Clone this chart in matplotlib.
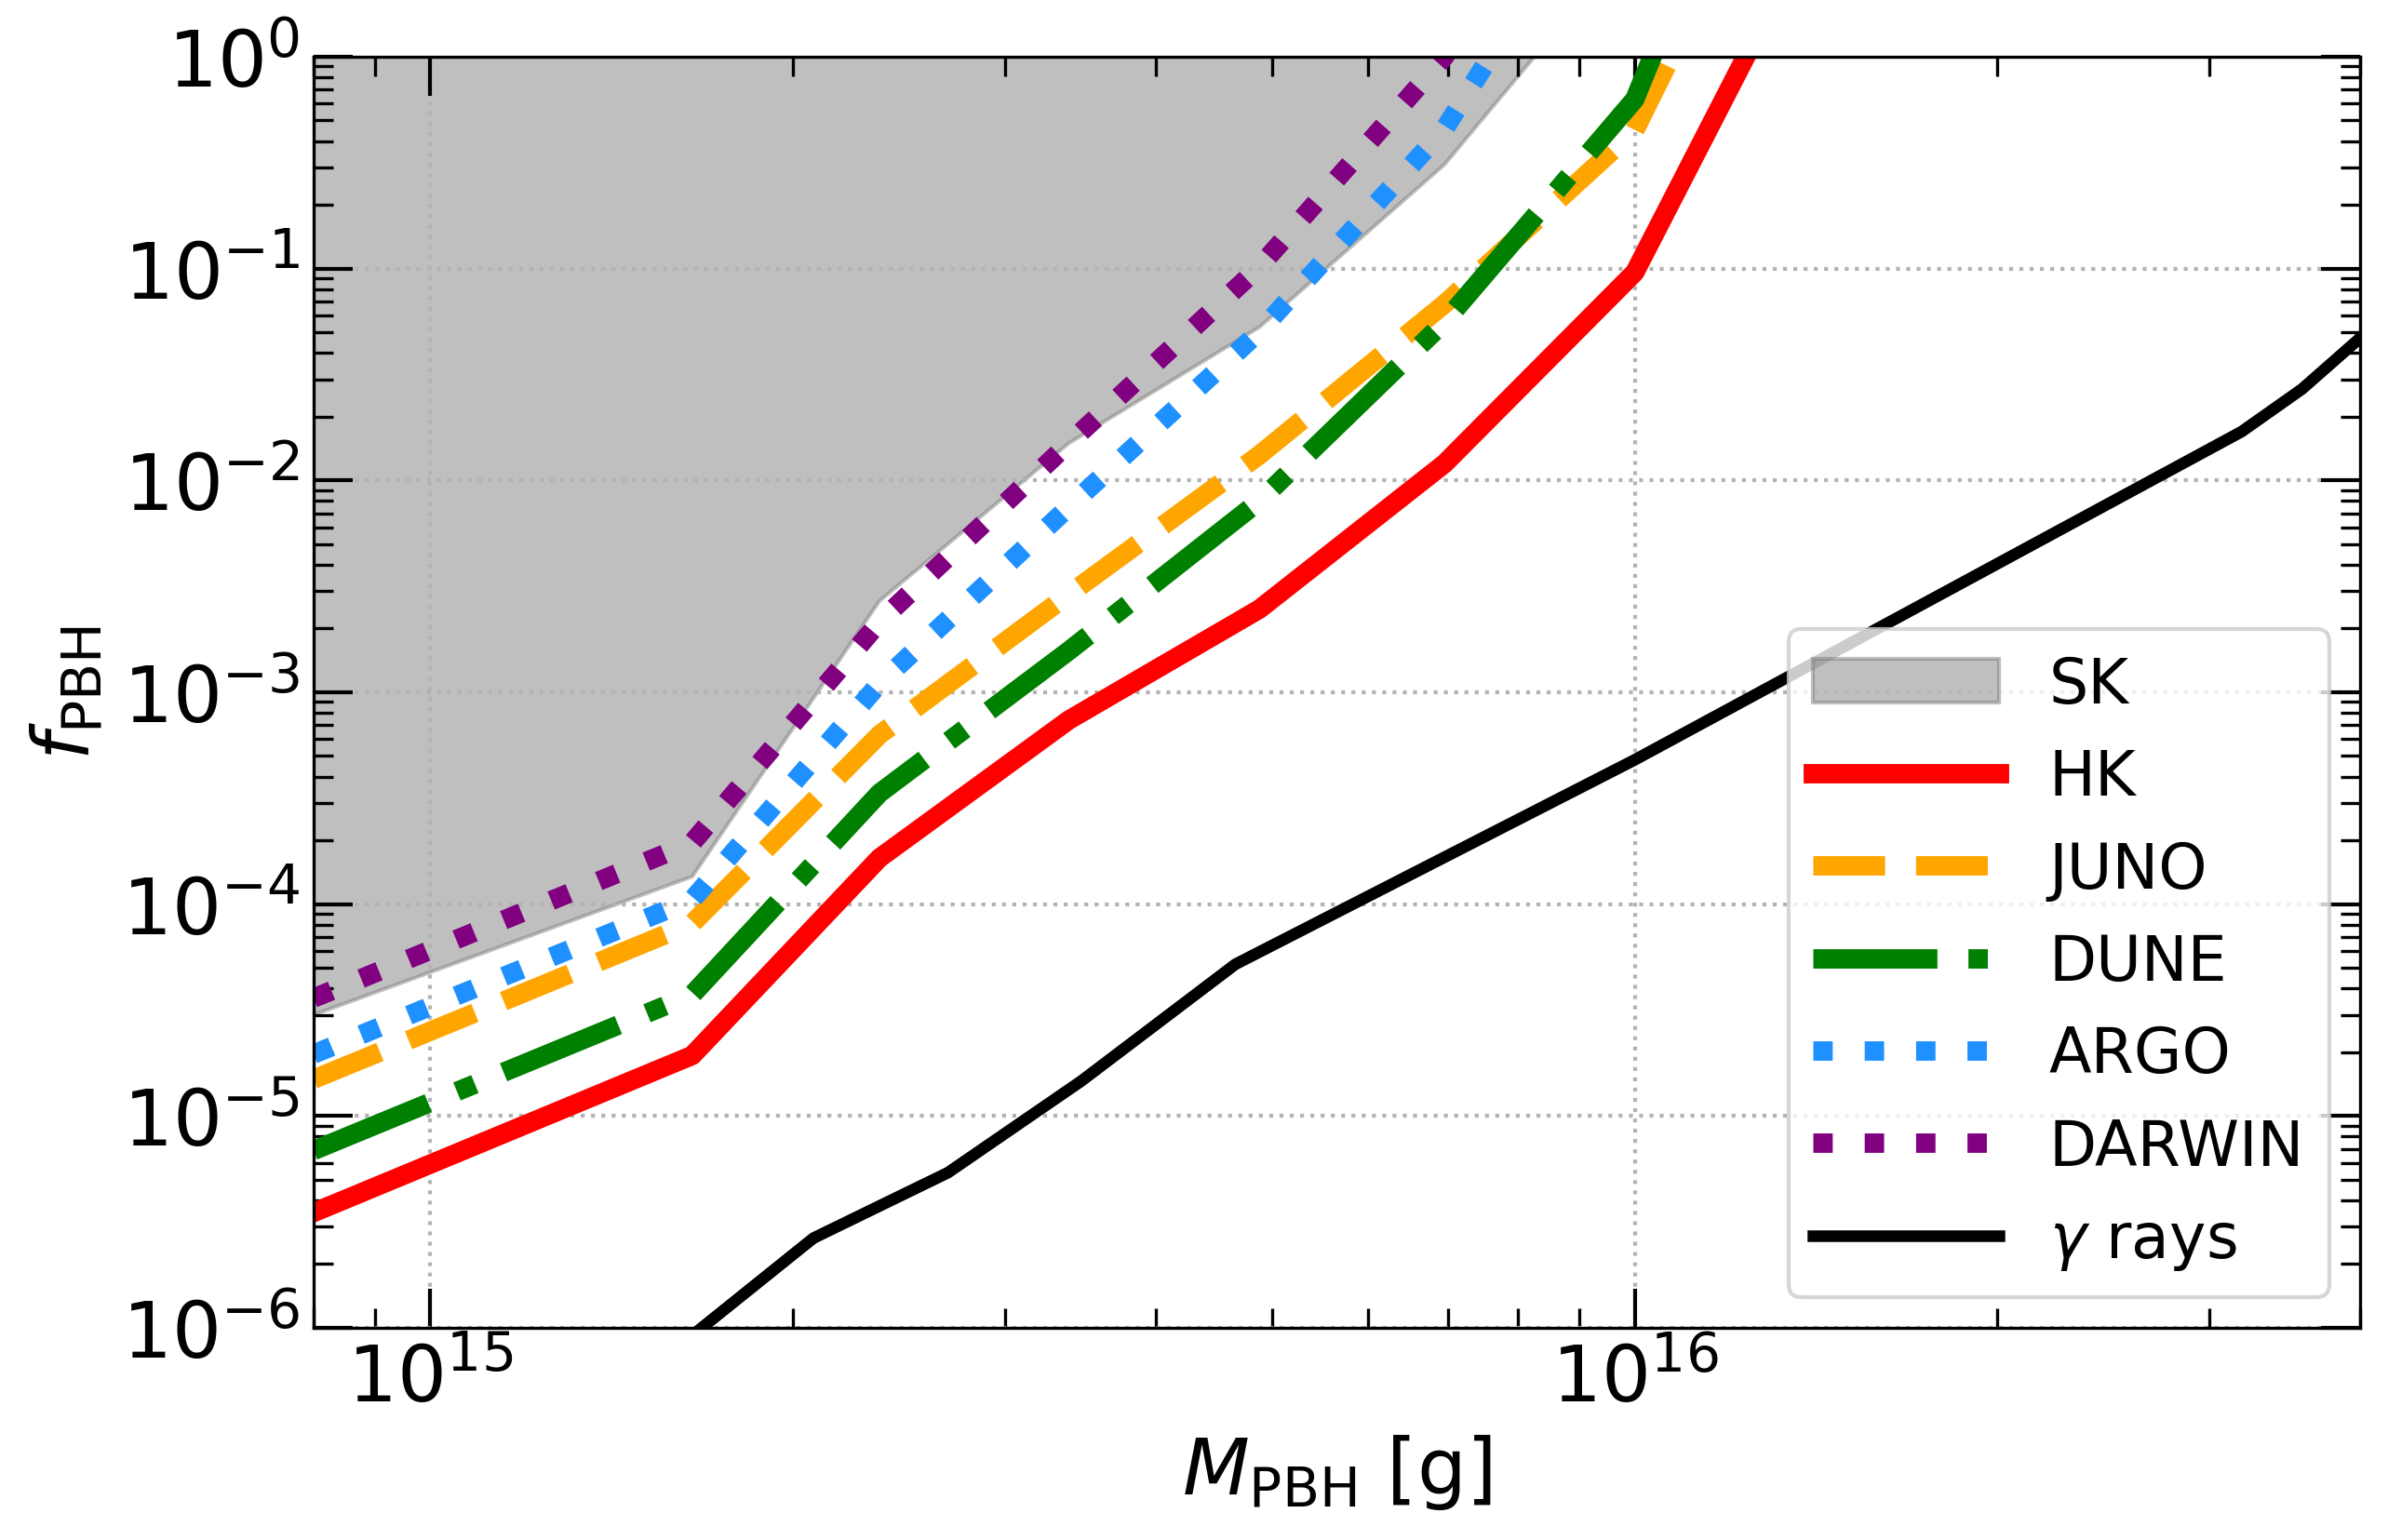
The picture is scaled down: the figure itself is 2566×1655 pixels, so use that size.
import numpy as np
import matplotlib
matplotlib.use("Agg")
import matplotlib.pyplot as plt

# masses [g] shared by the neutrino curves
mass = [8.0e14, 1.65e15, 2.36e15, 3.39e15, 4.88e15, 6.95e15, 1.0e16, 1.44e16]

sk = [3.0e-5, 1.35e-4, 2.7e-3, 1.5e-2, 5.3e-2, 0.31, 3.7, 40.0]
hk = [3.5e-6, 1.93e-5, 1.65e-4, 7.4e-4, 2.47e-3, 1.2e-2, 0.096, 5.4]
juno = [1.49e-5, 8.1e-5, 6.3e-4, 2.9e-3, 1.32e-2, 6.8e-2, 0.45, 30.0]
dune = [6.87e-6, 3.74e-5, 3.34e-4, 1.57e-3, 8.0e-3, 5.6e-2, 0.63, 100.0]
argo = [1.96e-5, 1.05e-4, 1.1e-3, 7.5e-3, 5.05e-2, 0.456, 12.0, 100.0]
darwin = [3.6e-5, 1.95e-4, 2.15e-3, 1.5e-2, 0.102, 1.0, 30.0, 100.0]

# gamma-ray bound
mass_gam = [1.6e15, 2.08e15, 2.69e15, 3.47e15, 4.66e15, 1.0e16, 3.19e16, 3.58e16, 4.0e16]
gam = [8.0e-7, 2.65e-6, 5.4e-6, 1.46e-5, 5.2e-5, 4.8e-4, 1.7e-2, 2.7e-2, 4.7e-2]

sk_top = 1e3

plt.rcParams['font.size'] = 20

fig = plt.figure(figsize=(2566 / 300, 1656 / 300), dpi=300)
ax = fig.add_axes([0.1313, 0.1377, 0.857, 0.8249])

ax.fill_between(mass, sk, sk_top, color='gray', alpha=0.5, label='SK')
ax.plot(mass, hk, color='red', lw=5, ls='-', label='HK')
ax.plot(mass, juno, color='orange', lw=5, ls='--', label='JUNO')
ax.plot(mass, dune, color='green', lw=5, ls='-.', label='DUNE')
ax.plot(mass, argo, color='dodgerblue', lw=5, ls=':', label='ARGO')
ax.plot(mass, darwin, color='purple', lw=5, ls=':', label='DARWIN')
ax.plot(mass_gam, gam, color='black', lw=3, ls='-', label=r'$\gamma$ rays')

ax.set_xscale('log')
ax.set_yscale('log')
ax.set_xlim(8e14, 4e16)
ax.set_ylim(1e-6, 1e0)

ax.set_xlabel(r'$M_{\rm PBH}$ [g]', fontsize=20)
ax.set_ylabel(r'$f_{\rm PBH}$', fontsize=20)

ax.tick_params(which='both', direction='in', top=True, right=True, labelsize=20)
ax.tick_params(which='major', length=10, width=1)
ax.tick_params(which='minor', length=5, width=0.8)
ax.grid(True, which='major', ls=':', color='0.7', lw=1)

ax.legend(loc='lower right', fontsize=16, handlelength=3)

fig.savefig('out.png', dpi=300)
